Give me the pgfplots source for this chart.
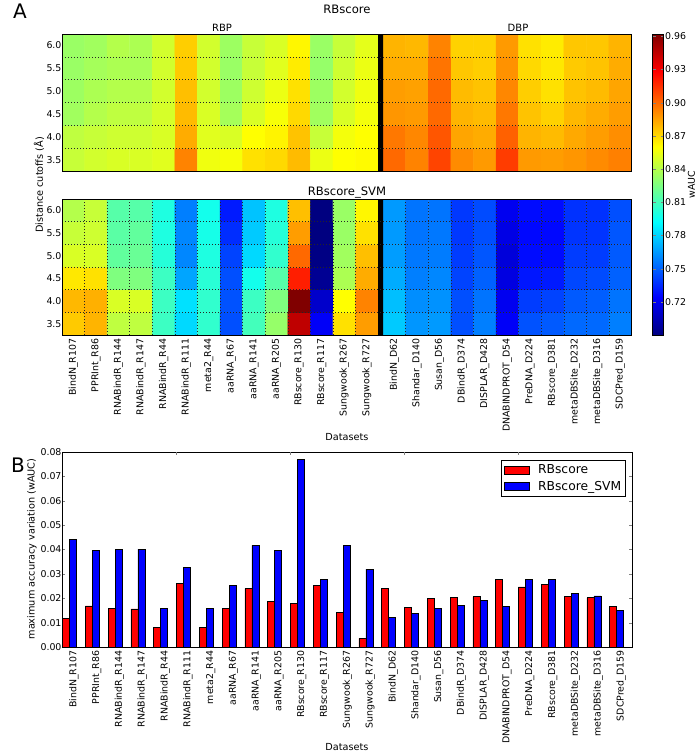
\documentclass[border=0pt]{standalone}
\usepackage{pgfplots}
\usepackage{pgfplotstable}
\pgfplotsset{compat=1.18}
\usepackage{fontspec}
\setmainfont{DejaVu Sans}
\newcommand{\tkf}{\fontsize{9.4}{10}\selectfont}
\pgfplotsset{/pgf/number format/assume math mode=true}
\pgfplotstableread{
i red blue
0 0.0118 0.0443
1 0.0169 0.0396
2 0.0157 0.0402
3 0.0156 0.0402
4 0.0079 0.0160
5 0.0261 0.0325
6 0.0079 0.0160
7 0.0160 0.0254
8 0.0240 0.0417
9 0.0187 0.0396
10 0.0178 0.0770
11 0.0253 0.0279
12 0.0142 0.0416
13 0.0035 0.0320
14 0.0240 0.0123
15 0.0161 0.0137
16 0.0198 0.0159
17 0.0202 0.0172
18 0.0206 0.0190
19 0.0276 0.0168
20 0.0247 0.0279
21 0.0258 0.0276
22 0.0206 0.0220
23 0.0202 0.0210
24 0.0165 0.0150
}\bardata
\pgfplotsset{
  heat/.style={
    scale only axis, width=569.5pt,
    xmin=-0.5, xmax=24.72, ymin=3.25, ymax=6.25,
    colormap/jet, point meta min=0.69, point meta max=0.962,
    axis on top,
    ytick={3.5,4,4.5,5,5.5,6},
    yticklabel style={font=\tkf, xshift=3pt, /pgf/number format/.cd, fixed, fixed zerofill, precision=1},
    minor xtick={0.5,1.5,2.5,3.5,4.5,5.5,6.5,7.5,8.5,9.5,10.5,11.5,12.5,14.72,15.72,16.72,17.72,18.72,19.72,20.72,21.72,22.72,23.72},
    minor ytick={3.75,4.25,4.75,5.25,5.75},
    xminorgrids=true, yminorgrids=true,
    minor grid style={black!85, dash pattern=on 0.8pt off 2.2pt, line width=0.5pt},
    major tick length=0pt, minor tick length=0pt,
    axis line style={line width=0.8pt},
  },
  mybar/.style={ybar, bar width=0.31, bar shift=0pt, draw=black, line width=0.6pt,
    legend image code/.code={\draw[##1] (0pt,-4pt) rectangle (25pt,4pt);}},
}
\begin{document}
\begin{tikzpicture}
\useasboundingbox (0pt,0pt) rectangle (696pt,-755pt);
% ---------------- top heatmap: RBscore
\begin{axis}[heat, height=137pt, at={(62pt,-171pt)}, anchor=south west, xtick=\empty]
\addplot[matrix plot*, mesh/cols=14, point meta=explicit] coordinates {
(0,3.5)[0.845] (1,3.5)[0.848] (2,3.5)[0.850] (3,3.5)[0.850] (4,3.5)[0.852] (5,3.5)[0.893] (6,3.5)[0.856] (7,3.5)[0.858] (8,3.5)[0.868] (9,3.5)[0.870] (10,3.5)[0.878] (11,3.5)[0.855] (12,3.5)[0.860] (13,3.5)[0.861]
(0,4.0)[0.843] (1,4.0)[0.845] (2,4.0)[0.847] (3,4.0)[0.847] (4,4.0)[0.850] (5,4.0)[0.882] (6,4.0)[0.852] (7,4.0)[0.850] (8,4.0)[0.860] (9,4.0)[0.863] (10,4.0)[0.876] (11,4.0)[0.845] (12,4.0)[0.857] (13,4.0)[0.860]
(0,4.5)[0.835] (1,4.5)[0.840] (2,4.5)[0.843] (3,4.5)[0.843] (4,4.5)[0.849] (5,4.5)[0.878] (6,4.5)[0.850] (7,4.5)[0.836] (8,4.5)[0.850] (9,4.5)[0.858] (10,4.5)[0.870] (11,4.5)[0.835] (12,4.5)[0.850] (13,4.5)[0.857]
(0,5.0)[0.834] (1,5.0)[0.838] (2,5.0)[0.840] (3,5.0)[0.840] (4,5.0)[0.848] (5,5.0)[0.877] (6,5.0)[0.848] (7,5.0)[0.834] (8,5.0)[0.847] (9,5.0)[0.855] (10,5.0)[0.868] (11,5.0)[0.834] (12,5.0)[0.848] (13,5.0)[0.856]
(0,5.5)[0.833] (1,5.5)[0.836] (2,5.5)[0.838] (3,5.5)[0.837] (4,5.5)[0.848] (5,5.5)[0.874] (6,5.5)[0.848] (7,5.5)[0.833] (8,5.5)[0.845] (9,5.5)[0.852] (10,5.5)[0.865] (11,5.5)[0.832] (12,5.5)[0.847] (13,5.5)[0.855]
(0,6.0)[0.833] (1,6.0)[0.835] (2,6.0)[0.840] (3,6.0)[0.838] (4,6.0)[0.848] (5,6.0)[0.873] (6,6.0)[0.848] (7,6.0)[0.834] (8,6.0)[0.845] (9,6.0)[0.850] (10,6.0)[0.862] (11,6.0)[0.833] (12,6.0)[0.845] (13,6.0)[0.853]
};
\addplot[matrix plot*, mesh/cols=11, point meta=explicit] coordinates {
(14.22,3.5)[0.900] (15.22,3.5)[0.893] (16.22,3.5)[0.910] (17.22,3.5)[0.891] (18.22,3.5)[0.887] (19.22,3.5)[0.912] (20.22,3.5)[0.887] (21.22,3.5)[0.886] (22.22,3.5)[0.888] (23.22,3.5)[0.891] (24.22,3.5)[0.894]
(14.22,4.0)[0.896] (15.22,4.0)[0.892] (16.22,4.0)[0.905] (17.22,4.0)[0.884] (18.22,4.0)[0.882] (19.22,4.0)[0.902] (20.22,4.0)[0.880] (21.22,4.0)[0.878] (22.22,4.0)[0.883] (23.22,4.0)[0.886] (24.22,4.0)[0.890]
(14.22,4.5)[0.888] (15.22,4.5)[0.887] (16.22,4.5)[0.900] (17.22,4.5)[0.880] (18.22,4.5)[0.878] (19.22,4.5)[0.896] (20.22,4.5)[0.876] (21.22,4.5)[0.872] (22.22,4.5)[0.879] (23.22,4.5)[0.882] (24.22,4.5)[0.886]
(14.22,5.0)[0.886] (15.22,5.0)[0.885] (16.22,5.0)[0.900] (17.22,5.0)[0.878] (18.22,5.0)[0.876] (19.22,5.0)[0.892] (20.22,5.0)[0.873] (21.22,5.0)[0.868] (22.22,5.0)[0.876] (23.22,5.0)[0.878] (24.22,5.0)[0.884]
(14.22,5.5)[0.882] (15.22,5.5)[0.882] (16.22,5.5)[0.897] (17.22,5.5)[0.875] (18.22,5.5)[0.873] (19.22,5.5)[0.889] (20.22,5.5)[0.870] (21.22,5.5)[0.866] (22.22,5.5)[0.874] (23.22,5.5)[0.876] (24.22,5.5)[0.882]
(14.22,6.0)[0.880] (15.22,6.0)[0.879] (16.22,6.0)[0.893] (17.22,6.0)[0.872] (18.22,6.0)[0.872] (19.22,6.0)[0.887] (20.22,6.0)[0.868] (21.22,6.0)[0.865] (22.22,6.0)[0.875] (23.22,6.0)[0.875] (24.22,6.0)[0.880]
};
\addplot[fill=black, draw=none] coordinates {(13.5,3.25) (13.72,3.25) (13.72,6.25) (13.5,6.25) (13.5,3.25)};
\end{axis}
% ---------------- bottom heatmap: RBscore_SVM
\begin{axis}[heat, height=136pt, at={(62pt,-335pt)}, anchor=south west,
  xtick={0,1,2,3,4,5,6,7,8,9,10,11,12,13,14.22,15.22,16.22,17.22,18.22,19.22,20.22,21.22,22.22,23.22,24.22},
  xticklabels={BindN\_R107,PPRInt\_R86,RNABindR\_R144,RNABindR\_R147,RNABindR\_R44,RNABindR\_R111,meta2\_R44,aaRNA\_R67,aaRNA\_R141,aaRNA\_R205,RBscore\_R130,RBscore\_R117,Sungwook\_R267,Sungwook\_R727,BindN\_D62,Shandar\_D140,Susan\_D56,DBindR\_D374,DISPLAR\_D428,DNABINDPROT\_D54,PreDNA\_D224,RBscore\_D381,metaDBSite\_D232,metaDBSite\_D316,SDCPred\_D159},
  xticklabel style={rotate=90, anchor=east, font=\tkf},
  colorbar,
  colorbar style={
    at={(parent axis.north east)}, anchor=north west,
    xshift=12.5pt, yshift=165pt,
    width=11pt, height=301pt,
    xminorgrids=false, yminorgrids=false,
    ytick={0.72,0.75,0.78,0.81,0.84,0.87,0.90,0.93,0.96},
    yticklabel style={font=\tkf, xshift=-2pt, /pgf/number format/.cd, fixed, fixed zerofill, precision=2},
    major tick length=3pt,
    ylabel={wAUC}, ylabel style={font=\tkf}, ylabel shift=-5pt,
    axis line style={line width=0.8pt},
  }]
\addplot[matrix plot*, mesh/cols=14, point meta=explicit] coordinates {
(0,3.5)[0.874] (1,3.5)[0.880] (2,3.5)[0.843] (3,3.5)[0.843] (4,3.5)[0.808] (5,3.5)[0.782] (6,3.5)[0.805] (7,3.5)[0.745] (8,3.5)[0.810] (9,3.5)[0.832] (10,3.5)[0.945] (11,3.5)[0.722] (12,3.5)[0.868] (13,3.5)[0.886]
(0,4.0)[0.879] (1,4.0)[0.881] (2,4.0)[0.850] (3,4.0)[0.850] (4,4.0)[0.808] (5,4.0)[0.784] (6,4.0)[0.805] (7,4.0)[0.746] (8,4.0)[0.808] (9,4.0)[0.826] (10,4.0)[0.962] (11,4.0)[0.710] (12,4.0)[0.860] (13,4.0)[0.893]
(0,4.5)[0.866] (1,4.5)[0.868] (2,4.5)[0.826] (3,4.5)[0.826] (4,4.5)[0.808] (5,4.5)[0.768] (6,4.5)[0.803] (7,4.5)[0.745] (8,4.5)[0.797] (9,4.5)[0.815] (10,4.5)[0.920] (11,4.5)[0.695] (12,4.5)[0.838] (13,4.5)[0.882]
(0,5.0)[0.850] (1,5.0)[0.850] (2,5.0)[0.818] (3,5.0)[0.820] (4,5.0)[0.802] (5,5.0)[0.760] (6,5.0)[0.800] (7,5.0)[0.742] (8,5.0)[0.782] (9,5.0)[0.805] (10,5.0)[0.900] (11,5.0)[0.691] (12,5.0)[0.835] (13,5.0)[0.877]
(0,5.5)[0.845] (1,5.5)[0.847] (2,5.5)[0.816] (3,5.5)[0.818] (4,5.5)[0.800] (5,5.5)[0.760] (6,5.5)[0.798] (7,5.5)[0.736] (8,5.5)[0.778] (9,5.5)[0.802] (10,5.5)[0.886] (11,5.5)[0.690] (12,5.5)[0.833] (13,5.5)[0.868]
(0,6.0)[0.840] (1,6.0)[0.845] (2,6.0)[0.815] (3,6.0)[0.815] (4,6.0)[0.800] (5,6.0)[0.758] (6,6.0)[0.797] (7,6.0)[0.731] (8,6.0)[0.776] (9,6.0)[0.800] (10,6.0)[0.877] (11,6.0)[0.690] (12,6.0)[0.833] (13,6.0)[0.862]
};
\addplot[matrix plot*, mesh/cols=11, point meta=explicit] coordinates {
(14.22,3.5)[0.778] (15.22,3.5)[0.764] (16.22,3.5)[0.765] (17.22,3.5)[0.745] (18.22,3.5)[0.758] (19.22,3.5)[0.722] (20.22,3.5)[0.746] (21.22,3.5)[0.748] (22.22,3.5)[0.752] (23.22,3.5)[0.752] (24.22,3.5)[0.758]
(14.22,4.0)[0.775] (15.22,4.0)[0.762] (16.22,4.0)[0.763] (17.22,4.0)[0.745] (18.22,4.0)[0.755] (19.22,4.0)[0.720] (20.22,4.0)[0.740] (21.22,4.0)[0.742] (22.22,4.0)[0.748] (23.22,4.0)[0.749] (24.22,4.0)[0.755]
(14.22,4.5)[0.770] (15.22,4.5)[0.758] (16.22,4.5)[0.760] (17.22,4.5)[0.742] (18.22,4.5)[0.750] (19.22,4.5)[0.716] (20.22,4.5)[0.730] (21.22,4.5)[0.731] (22.22,4.5)[0.743] (23.22,4.5)[0.744] (24.22,4.5)[0.750]
(14.22,5.0)[0.766] (15.22,5.0)[0.756] (16.22,5.0)[0.757] (17.22,5.0)[0.740] (18.22,5.0)[0.747] (19.22,5.0)[0.714] (20.22,5.0)[0.727] (21.22,5.0)[0.727] (22.22,5.0)[0.740] (23.22,5.0)[0.740] (24.22,5.0)[0.748]
(14.22,5.5)[0.765] (15.22,5.5)[0.755] (16.22,5.5)[0.756] (17.22,5.5)[0.739] (18.22,5.5)[0.745] (19.22,5.5)[0.717] (20.22,5.5)[0.726] (21.22,5.5)[0.726] (22.22,5.5)[0.738] (23.22,5.5)[0.738] (24.22,5.5)[0.747]
(14.22,6.0)[0.765] (15.22,6.0)[0.755] (16.22,6.0)[0.755] (17.22,6.0)[0.739] (18.22,6.0)[0.744] (19.22,6.0)[0.720] (20.22,6.0)[0.727] (21.22,6.0)[0.727] (22.22,6.0)[0.737] (23.22,6.0)[0.737] (24.22,6.0)[0.745]
};
\addplot[fill=black, draw=none] coordinates {(13.5,3.25) (13.72,3.25) (13.72,6.25) (13.5,6.25) (13.5,3.25)};
\end{axis}
% ---------------- panel B: bars
\begin{axis}[scale only axis, width=570pt, height=195pt, at={(62pt,-647pt)}, anchor=south west,
  xmin=0, xmax=25, ymin=0, ymax=0.08,
  scaled y ticks=false,
  ytick={0,0.01,0.02,0.03,0.04,0.05,0.06,0.07,0.08},
  yticklabel style={font=\tkf, xshift=3pt, /pgf/number format/.cd, fixed, fixed zerofill, precision=2},
  xtick={0.52,1.52,2.52,3.52,4.52,5.52,6.52,7.52,8.52,9.52,10.52,11.52,12.52,13.52,14.52,15.52,16.52,17.52,18.52,19.52,20.52,21.52,22.52,23.52,24.52},
  xticklabels={BindN\_R107,PPRInt\_R86,RNABindR\_R144,RNABindR\_R147,RNABindR\_R44,RNABindR\_R111,meta2\_R44,aaRNA\_R67,aaRNA\_R141,aaRNA\_R205,RBscore\_R130,RBscore\_R117,Sungwook\_R267,Sungwook\_R727,BindN\_D62,Shandar\_D140,Susan\_D56,DBindR\_D374,DISPLAR\_D428,DNABINDPROT\_D54,PreDNA\_D224,RBscore\_D381,metaDBSite\_D232,metaDBSite\_D316,SDCPred\_D159},
  xticklabel style={rotate=90, anchor=east, font=\tkf},
  xtick pos=lower, major tick length=3pt,
  extra x ticks={5,10,15,20}, extra x tick labels={},
  extra x tick style={xtick pos=upper},
  axis line style={line width=0.8pt},
  legend style={at={(0.9895,0.96)}, anchor=north east, font=\fontsize{12.3}{14}\selectfont,
    draw=black, line width=0.8pt, row sep=2pt, column sep=7pt, inner sep=2.5pt},
  legend cell align=left,
]
\addplot[mybar, fill=red] table[x expr=\thisrow{i}+0.175, y=red]{\bardata};
\addlegendentry{RBscore}
\addplot[mybar, fill=blue] table[x expr=\thisrow{i}+0.485, y=blue]{\bardata};
\addlegendentry{RBscore\_SVM}
\end{axis}
% ---------------- texts
\node[font=\fontsize{20}{22}\selectfont] at (20pt,-11pt) {A};
\node[font=\fontsize{11.6}{13}\selectfont] at (347pt,-9pt) {RBscore};
\node[font=\fontsize{10}{12}\selectfont] at (222pt,-28pt) {RBP};
\node[font=\fontsize{10}{12}\selectfont] at (518pt,-28pt) {DBP};
\node[font=\fontsize{11.6}{13}\selectfont] at (347pt,-193pt) {RBscore\_SVM};
\node[rotate=90, font=\fontsize{9.7}{11}\selectfont] at (39pt,-185pt) {Distance cutoffs (Å)};
\node[font=\fontsize{9.7}{11}\selectfont] at (347pt,-437pt) {Datasets};
\node[font=\fontsize{20}{22}\selectfont] at (18pt,-465pt) {B};
\node[rotate=90, font=\fontsize{9.7}{11}\selectfont] at (32pt,-549pt) {maximum accuracy variation (wAUC)};
\node[font=\fontsize{9.7}{11}\selectfont] at (347pt,-747pt) {Datasets};
\end{tikzpicture}
\end{document}
